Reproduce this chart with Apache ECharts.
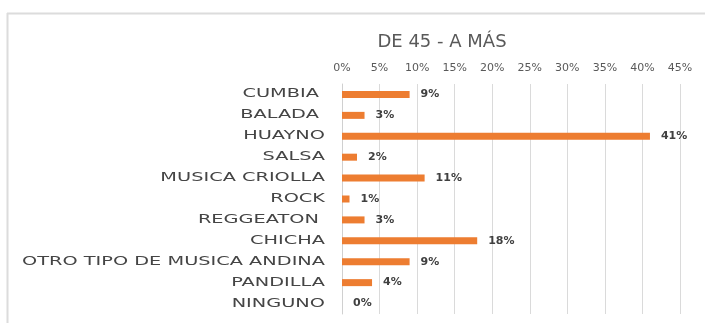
<!DOCTYPE html>
<html>
<head>
<meta charset="utf-8">
<script src="https://cdn.jsdelivr.net/npm/echarts@6/dist/echarts.min.js"></script>
<style>
  html, body { margin: 0; padding: 0; background: #ffffff; overflow: hidden; }
  #chart { width: 705px; height: 323px; }
</style>
</head>
<body>
<div id="chart"></div>
<script>
// Music preference, age group 45 and older (percent of respondents)
const categories = [
  'CUMBIA ', 'BALADA ', 'HUAYNO', 'SALSA', 'MUSICA CRIOLLA', 'ROCK',
  'REGGEATON ', 'CHICHA', 'OTRO TIPO DE MUSICA ANDINA', 'PANDILLA', 'NINGUNO'
];
const shares = [9, 3, 41, 2, 11, 1, 3, 18, 9, 4, 0];
const tickMax = 45;
const tickStep = 5;
const chartTitle = 'DE 45 - A MÁS';

const chart = echarts.init(document.getElementById('chart'), null, { renderer: 'canvas' });

chart.setOption({
  backgroundColor: '#ffffff',
  animation: false,
  title: {
    text: chartTitle,
    left: 437,
    top: 28,
    textAlign: 'center',
    textStyle: { fontFamily: 'DejaVu Sans', fontSize: 18, fontWeight: 'normal', color: '#595959' }
  },
  // chart-area frame: top and left edges
  graphic: [
    {
      type: 'line',
      shape: { x1: 7, y1: 13.5, x2: 705, y2: 13.5 },
      style: { stroke: '#dcdcdc', lineWidth: 2 },
      silent: true,
      z: -10
    },
    {
      type: 'line',
      shape: { x1: 7.5, y1: 13, x2: 7.5, y2: 323 },
      style: { stroke: '#dcdcdc', lineWidth: 2 },
      silent: true,
      z: -10
    }
  ],
  grid: { left: 342, right: 25, top: 84, bottom: 9, containLabel: false },
  xAxis: {
    type: 'value',
    position: 'top',
    min: 0,
    max: tickMax,
    interval: tickStep,
    axisLine: { show: false },
    axisTick: { show: false },
    splitLine: { lineStyle: { color: '#dadada', width: 1 } },
    axisLabel: {
      formatter: v => v + '%',
      fontFamily: 'DejaVu Sans',
      fontSize: 11,
      color: '#595959',
      margin: 10
    }
  },
  yAxis: {
    type: 'category',
    inverse: true,
    data: categories,
    axisLine: { show: true, lineStyle: { color: '#d0d0d0', width: 1 } },
    axisTick: { show: false },
    axisLabel: { show: false }
  },
  series: [
    {
      type: 'bar',
      data: shares,
      barWidth: 7,
      itemStyle: { color: '#ED7D31' },
      label: {
        show: true,
        position: 'right',
        distance: 11,
        formatter: p => p.value + '%',
        fontFamily: 'DejaVu Sans',
        fontWeight: 'bold',
        fontSize: 11,
        color: '#404040'
      }
    },
    {
      // Wide category names placed at the axis through the category scale
      type: 'custom',
      silent: true,
      clip: false,
      data: categories.map((c, i) => [0, i]),
      renderItem: (params, api) => {
        const idx = api.value(1);
        const p = api.coord([0, idx]);
        return {
          type: 'text',
          x: p[0] - 17,
          y: p[1],
          scaleX: 1.68,
          style: {
            text: categories[idx],
            align: 'right',
            verticalAlign: 'middle',
            fontFamily: 'DejaVu Sans',
            fontSize: 11.5,
            fill: '#454545'
          }
        };
      }
    }
  ]
});
</script>
</body>
</html>
